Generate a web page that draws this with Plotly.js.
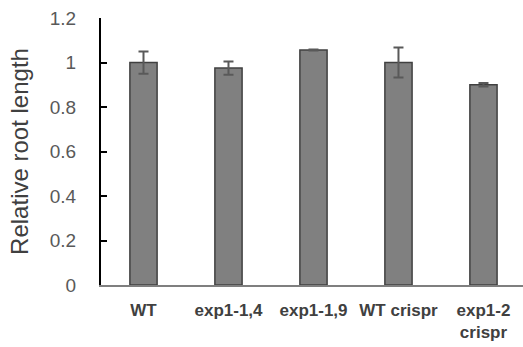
<!DOCTYPE html>
<html>
<head>
<meta charset="utf-8">
<script src="https://cdn.plot.ly/plotly-3.0.1.min.js"></script>
<style>html,body{margin:0;padding:0;background:#fff;}#chart{width:523px;height:347px;}</style>
</head>
<body>
<div id="chart"></div>
<script>
const categories = ["WT", "exp1-1,4", "exp1-1,9", "WT crispr", "exp1-2<br>crispr"];
const values = [1.0, 0.975, 1.056, 1.0, 0.9];
const errors = [0.05, 0.03, 0.002, 0.067, 0.008];
const yTicks = [0, 0.2, 0.4, 0.6, 0.8, 1, 1.2];
const yTickText = ["0", "0.2", "0.4", "0.6", "0.8", "1", "1.2"];

const trace = {
  type: "bar",
  x: categories,
  y: values,
  width: 0.32,
  marker: {color: "#808080", line: {color: "#404040", width: 1.5}},
  error_y: {type: "data", array: errors, visible: true, color: "#595959", thickness: 2, width: 5}
};

const layout = {
  width: 523, height: 347,
  margin: {l: 101, r: 0, t: 18, b: 62},
  paper_bgcolor: "#fff", plot_bgcolor: "#fff",
  showlegend: false,
  font: {family: "Liberation Sans, Arial, sans-serif"},
  xaxis: {
    type: "category",
    range: [-0.5, 4.465],
    showline: true, linecolor: "#7f7f7f", linewidth: 1.5,
    ticks: "", showgrid: false, zeroline: false,
    tickfont: {family: "Liberation Sans, Arial, sans-serif", size: 17, weight: "bold", color: "#404040"},
    ticklabelstandoff: 9
  },
  yaxis: {
    range: [0, 1.2],
    tickvals: yTicks, ticktext: yTickText,
    showline: true, linecolor: "#000", linewidth: 2,
    ticks: "inside", ticklen: 6, tickwidth: 2, tickcolor: "#000",
    showgrid: false, zeroline: false,
    tickfont: {size: 19, color: "#595959"},
    ticklabelstandoff: 19,
    title: {text: "Relative root length", font: {size: 24, color: "#404040"}, standoff: 14}
  }
};

Plotly.newPlot("chart", [trace], layout, {staticPlot: true, displayModeBar: false});
</script>
</body>
</html>
